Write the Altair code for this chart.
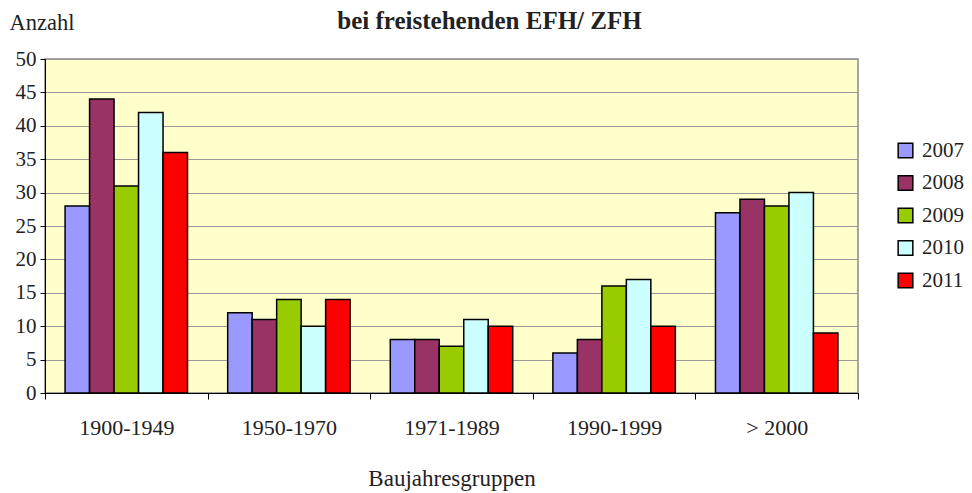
import altair as alt
import pandas as pd

categories = ["1900-1949", "1950-1970", "1971-1989", "1990-1999", "> 2000"]
years = ["2007", "2008", "2009", "2010", "2011"]
values = {
    "2007": [28, 12, 8, 6, 27],
    "2008": [44, 11, 8, 8, 29],
    "2009": [31, 14, 7, 16, 28],
    "2010": [42, 10, 11, 17, 30],
    "2011": [36, 14, 10, 10, 9],
}
colors = ["#9999FF", "#993366", "#99CC00", "#CCFFFF", "#FF0000"]

rows = []
for y in years:
    for c, v in zip(categories, values[y]):
        rows.append({"Gruppe": c, "Jahr": y, "Anzahl": v})
df = pd.DataFrame(rows)

FONT = "Liberation Serif"

chart = alt.Chart(df).mark_bar(stroke="#000000", strokeWidth=1.5).encode(
    x=alt.X("Gruppe:N", sort=categories,
            scale=alt.Scale(paddingInner=0, paddingOuter=0),
            axis=alt.Axis(title="Baujahresgruppen", labelAngle=0, tickBand="extent",
                          tickSize=6, tickColor="#000000", domainColor="#000000",
                          labelFontSize=22, labelFont=FONT, labelColor="#222222",
                          labelPadding=18, titleFont=FONT, titleFontSize=23,
                          titleFontWeight="normal", titleColor="#222222",
                          titlePadding=29, grid=False)),
    xOffset=alt.XOffset("Jahr:N", sort=years,
                        scale=alt.Scale(paddingInner=0, paddingOuter=0.82)),
    y=alt.Y("Anzahl:Q", scale=alt.Scale(domain=[0, 50]),
            axis=alt.Axis(values=list(range(0, 55, 5)), tickSize=5, tickColor="#000000",
                          domainColor="#000000", labelFontSize=21, labelFont=FONT,
                          labelColor="#222222", labelPadding=4,
                          gridColor="#999999", gridWidth=1,
                          title="Anzahl", titleAngle=0, titleFont=FONT, titleFontSize=22.5,
                          titleFontWeight="normal", titleColor="#222222",
                          titleAlign="left", titleBaseline="alphabetic",
                          titleX=-36, titleY=-30)),
    color=alt.Color("Jahr:N", sort=years,
                    scale=alt.Scale(domain=years, range=colors),
                    legend=alt.Legend(title=None, orient="none", legendX=850, legendY=81,
                                      symbolType="square", symbolSize=215,
                                      symbolStrokeColor="#000000", symbolStrokeWidth=1.5,
                                      labelFontSize=21, labelFont=FONT, labelColor="#222222",
                                      rowPadding=10.5, labelOffset=6)),
).properties(
    width=813, height=334,
    title=alt.Title("bei freistehenden EFH/ ZFH", font=FONT, fontSize=25,
                    fontWeight="bold", color="#222222", anchor="middle", dx=38, offset=-23),
    autosize=alt.AutoSizeParams(type="none"),
    padding={"left": 37, "top": 51, "right": 106, "bottom": 112},
).configure_view(
    fill="#FFFFCC", stroke="#888888", strokeWidth=1.5
)

chart.save("out.html", embed_options={"renderer": "svg", "actions": False})
